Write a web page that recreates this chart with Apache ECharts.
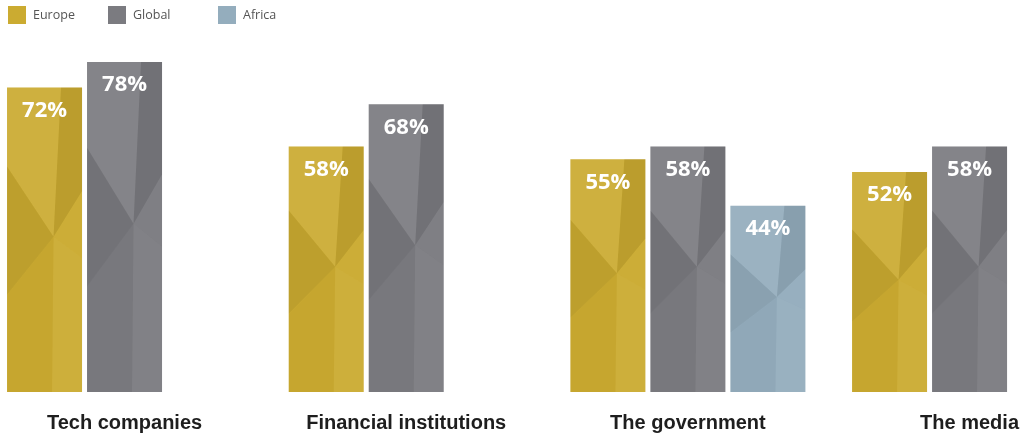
<!DOCTYPE html>
<html>
<head>
<meta charset="utf-8">
<script src="https://cdn.jsdelivr.net/npm/echarts@6/dist/echarts.min.js"></script>
<style>
  html, body { margin: 0; padding: 0; background: #ffffff; }
  #chart { width: 1023px; height: 435px; }
</style>
</head>
<body>
<div id="chart"></div>
<script>
// ---- data ----
const categories = ['Tech companies', 'Financial institutions', 'The government', 'The media'];
const europe = [72, 58, 55, 52];
const global = [78, 68, 58, 58];
const africa = [null, null, 44, null];
const seriesNames = ['Europe', 'Global', 'Africa'];

// ---- styling ----
const seriesColors = ['#cbab31', '#7b7b80', '#94adbd'];
const BAR_W = 75;
const BAR_GAP = 5;

// low-poly facets, given as fractions of the bar box, each tinted over the base colour
const C = [0.62, 0.49];
const facets = [
  { pts: [[0, 0], [0.72, 0], C, [0, 0.26]], fill: 'rgba(255,255,255,0.07)' },
  { pts: [[0.72, 0], [1, 0], [1, 0.34], C], fill: 'rgba(0,0,0,0.08)' },
  { pts: [[0, 0.26], C, [0, 0.68]], fill: 'rgba(0,0,0,0.065)' },
  { pts: [[1, 0.34], [1, 0.56], C], fill: 'rgba(255,255,255,0.03)' },
  { pts: [C, [1, 0.56], [1, 1], [0.6, 1]], fill: 'rgba(255,255,255,0.05)' },
  { pts: [[0, 0.68], C, [0.6, 1], [0, 1]], fill: 'rgba(0,0,0,0.025)' }
];

function makeRender(slot) {
  return function (params, api) {
    const v = api.value(1);
    if (v == null || isNaN(v)) return null;
    const base = api.coord([api.value(0), 0]);
    const top = api.coord([api.value(0), v]);
    const cx = base[0] + (slot - 1) * (BAR_W + BAR_GAP);
    const x = cx - BAR_W / 2, y = top[1], w = BAR_W, h = base[1] - top[1];
    const children = [
      { type: 'rect', shape: { x: x, y: y, width: w, height: h }, style: { fill: api.visual('color') } }
    ];
    facets.forEach(function (f) {
      children.push({
        type: 'polygon',
        shape: { points: f.pts.map(function (p) { return [x + p[0] * w, y + p[1] * h]; }) },
        style: { fill: f.fill }
      });
    });
    children.push({
      type: 'text',
      style: {
        text: v + '%', x: cx, y: y + 23, align: 'center', verticalAlign: 'middle',
        fill: '#ffffff', font: 'bold 22px "Open Sans", sans-serif'
      }
    });
    return { type: 'group', children: children };
  };
}

const seriesData = [europe, global, africa];

const chart = echarts.init(document.getElementById('chart'), null, { renderer: 'canvas' });
chart.setOption({
  animation: false,
  backgroundColor: '#ffffff',
  legend: seriesNames.map(function (n, i) {
    return {
      data: [n], left: [8, 108, 218][i], top: 6, padding: 0, icon: 'rect',
      itemWidth: 18, itemHeight: 18, itemGap: 0,
      textStyle: { color: '#555555', fontSize: 12.5, fontFamily: '"Open Sans", sans-serif', padding: [0, 0, 0, 2] }
    };
  }),
  grid: { left: -16.3, top: 53.54, width: 1126.7, height: 338.46, outerBoundsMode: 'none', containLabel: false },
  xAxis: {
    type: 'category', data: categories,
    axisLine: { show: false }, axisTick: { show: false },
    axisLabel: {
      interval: 0, hideOverlap: false, margin: 21, fontSize: 20, fontWeight: 'bold',
      fontFamily: '"Liberation Sans", Arial, sans-serif', color: '#1e1e1e'
    }
  },
  yAxis: { type: 'value', min: 0, max: 80, show: false, splitLine: { show: false } },
  series: seriesNames.map(function (n, i) {
    return {
      name: n, type: 'custom',
      itemStyle: { color: seriesColors[i] },
      renderItem: makeRender(i),
      data: seriesData[i].map(function (v, k) { return [k, v == null ? '-' : v]; })
    };
  })
});
</script>
</body>
</html>
